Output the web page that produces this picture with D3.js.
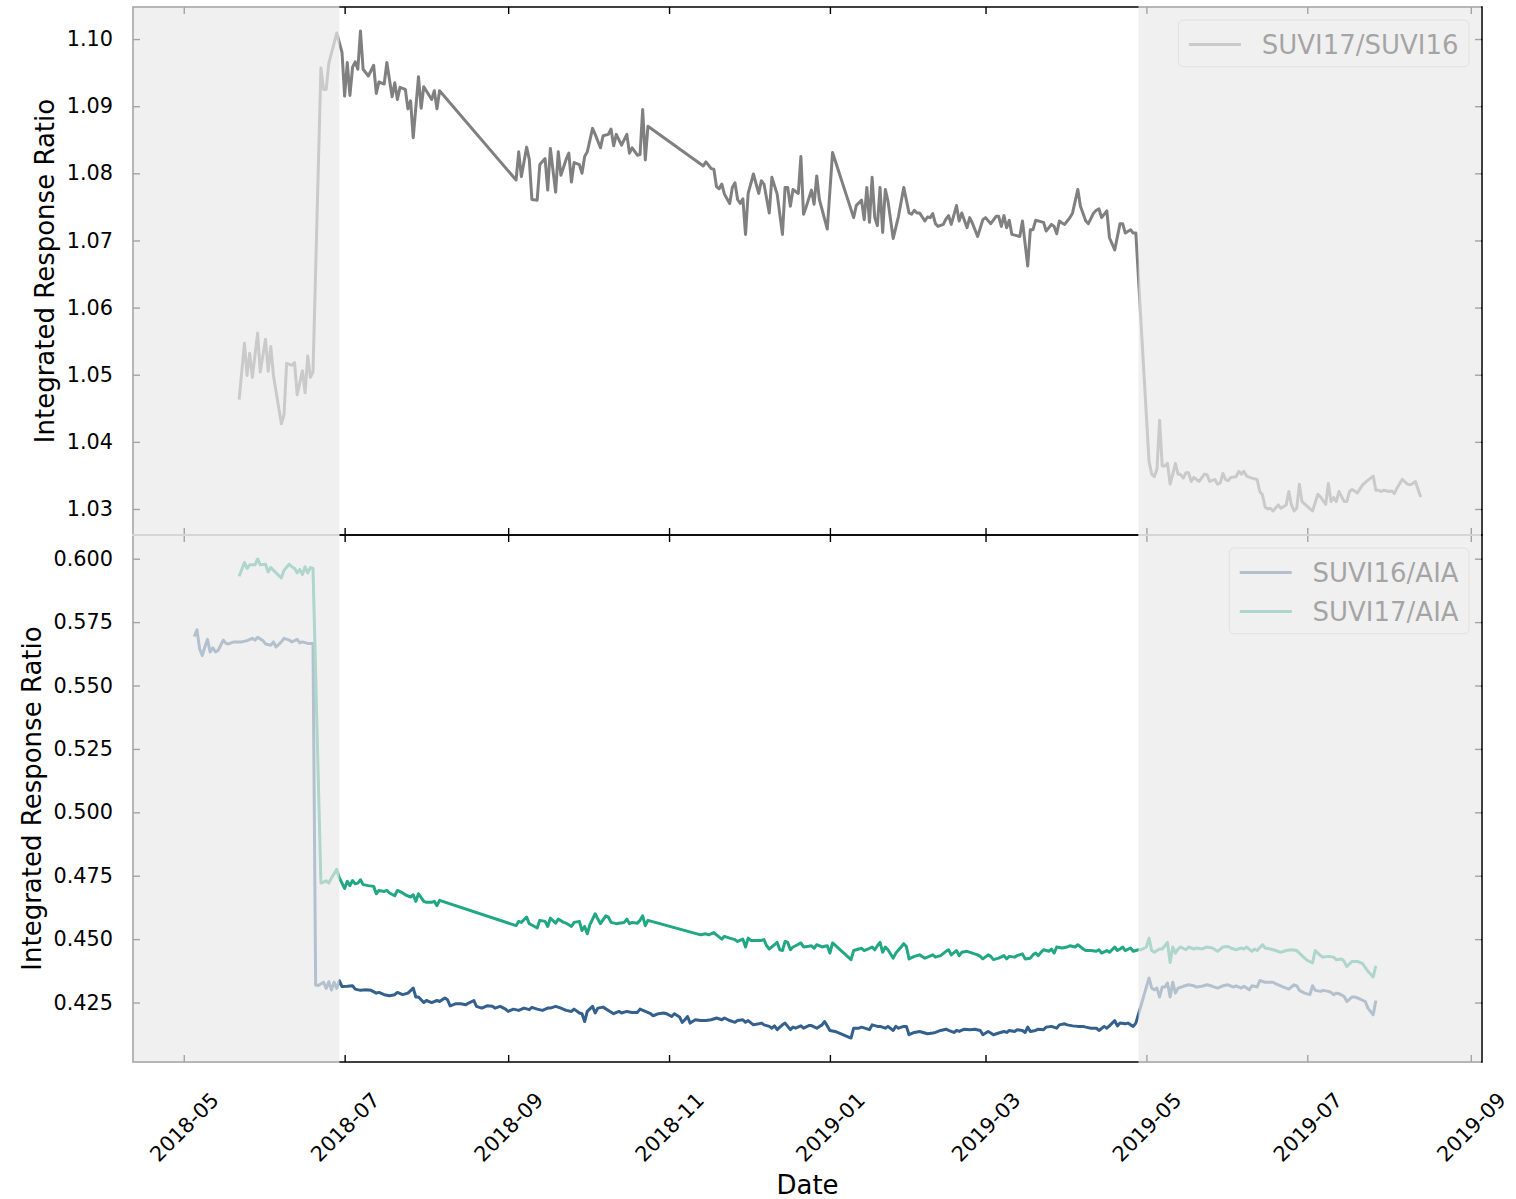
<!DOCTYPE html>
<html>
<head>
<meta charset="utf-8">
<script src="https://cdn.jsdelivr.net/npm/d3@7"></script>
<style>
  body { margin: 0; background: #ffffff; }
  svg text { font-family: "DejaVu Sans", sans-serif; fill: #000; }
</style>
</head>
<body>
<svg id="chart" width="1516" height="1199"></svg>
<script>
// ---- data: integrated response ratios by date ----
const ratio17to16 = [
["2018-05-22",1.0463],["2018-05-24",1.0547],["2018-05-25",1.0499],["2018-05-26",1.0532],["2018-05-27",1.0496],["2018-05-29",1.0562],["2018-05-30",1.0504],["2018-06-01",1.0553],["2018-06-02",1.0505],["2018-06-03",1.0542],["2018-06-04",1.0499],["2018-06-07",1.0427],["2018-06-08",1.0440],["2018-06-09",1.0517],["2018-06-11",1.0514],["2018-06-12",1.0518],["2018-06-13",1.0470],["2018-06-15",1.0506],["2018-06-16",1.0473],["2018-06-17",1.0528],["2018-06-18",1.0496],["2018-06-19",1.0504],["2018-06-22",1.0957],["2018-06-23",1.0925],["2018-06-24",1.0925],["2018-06-25",1.0964],["2018-06-28",1.1009],["2018-06-30",1.0980],
["2018-07-01",1.0915],["2018-07-02",1.0965],["2018-07-03",1.0916],["2018-07-04",1.0958],["2018-07-05",1.0966],["2018-07-06",1.0955],["2018-07-07",1.1012],["2018-07-08",1.0955],["2018-07-10",1.0945],["2018-07-12",1.0961],["2018-07-13",1.0919],["2018-07-14",1.0936],["2018-07-16",1.0933],["2018-07-17",1.0965],["2018-07-19",1.0914],["2018-07-20",1.0935],["2018-07-21",1.0910],["2018-07-22",1.0928],["2018-07-24",1.0925],["2018-07-25",1.0896],["2018-07-26",1.0908],["2018-07-27",1.0853],["2018-07-29",1.0944],["2018-07-30",1.0897],["2018-07-31",1.0929],["2018-08-03",1.0910],["2018-08-04",1.0923],["2018-08-05",1.0896],["2018-08-06",1.0923],
["2018-09-04",1.0790],["2018-09-05",1.0832],["2018-09-06",1.0795],["2018-09-08",1.0839],["2018-09-09",1.0821],["2018-09-10",1.0761],["2018-09-12",1.0760],["2018-09-13",1.0813],["2018-09-15",1.0822],["2018-09-16",1.0775],["2018-09-17",1.0837],["2018-09-19",1.0772],["2018-09-20",1.0832],["2018-09-21",1.0797],["2018-09-23",1.0821],["2018-09-24",1.0830],["2018-09-25",1.0787],["2018-09-26",1.0816],["2018-09-28",1.0813],["2018-09-29",1.0800],["2018-09-30",1.0825],["2018-10-01",1.0832],["2018-10-03",1.0867],["2018-10-04",1.0858],["2018-10-06",1.0838],["2018-10-07",1.0856],["2018-10-09",1.0858],["2018-10-10",1.0866],["2018-10-11",1.0841],["2018-10-12",1.0858],["2018-10-14",1.0842],["2018-10-16",1.0858],["2018-10-17",1.0830],["2018-10-18",1.0838],["2018-10-20",1.0827],["2018-10-21",1.0828],["2018-10-22",1.0895],["2018-10-23",1.0820],["2018-10-24",1.0870],
["2018-11-14",1.0811],["2018-11-15",1.0817],["2018-11-17",1.0807],["2018-11-18",1.0806],["2018-11-19",1.0780],["2018-11-20",1.0777],["2018-11-21",1.0784],["2018-11-22",1.0769],["2018-11-24",1.0755],["2018-11-25",1.0779],["2018-11-26",1.0786],["2018-11-27",1.0761],["2018-11-28",1.0755],["2018-11-29",1.0762],["2018-11-30",1.0709],["2018-12-01",1.0770],["2018-12-03",1.0799],["2018-12-05",1.0770],["2018-12-06",1.0789],["2018-12-07",1.0784],["2018-12-09",1.0741],["2018-12-10",1.0794],["2018-12-12",1.0769],["2018-12-14",1.0709],["2018-12-15",1.0779],["2018-12-16",1.0779],["2018-12-17",1.0751],["2018-12-18",1.0776],["2018-12-20",1.0770],["2018-12-21",1.0825],["2018-12-22",1.0739],["2018-12-23",1.0750],["2018-12-25",1.0775],["2018-12-26",1.0754],["2018-12-27",1.0796],["2018-12-28",1.0761],["2018-12-31",1.0717],["2019-01-02",1.0831],
["2019-01-10",1.0734],["2019-01-11",1.0752],["2019-01-13",1.0760],["2019-01-14",1.0731],["2019-01-15",1.0779],["2019-01-16",1.0727],["2019-01-17",1.0794],["2019-01-18",1.0734],["2019-01-19",1.0722],["2019-01-20",1.0779],["2019-01-21",1.0712],["2019-01-22",1.0776],["2019-01-23",1.0759],["2019-01-25",1.0703],["2019-01-27",1.0736],["2019-01-29",1.0779],["2019-01-31",1.0741],["2019-02-01",1.0739],["2019-02-02",1.0745],["2019-02-03",1.0741],["2019-02-04",1.0741],["2019-02-06",1.0729],["2019-02-07",1.0735],["2019-02-08",1.0734],["2019-02-09",1.0740],["2019-02-10",1.0725],["2019-02-11",1.0721],["2019-02-13",1.0724],["2019-02-14",1.0732],["2019-02-15",1.0737],["2019-02-16",1.0724],["2019-02-18",1.0752],["2019-02-19",1.0729],["2019-02-20",1.0741],["2019-02-22",1.0719],["2019-02-23",1.0734],["2019-02-24",1.0726],["2019-02-26",1.0706],["2019-02-28",1.0731],
["2019-03-01",1.0734],["2019-03-03",1.0725],["2019-03-05",1.0736],["2019-03-06",1.0736],["2019-03-07",1.0721],["2019-03-08",1.0737],["2019-03-09",1.0719],["2019-03-10",1.0730],["2019-03-11",1.0709],["2019-03-14",1.0706],["2019-03-15",1.0729],["2019-03-17",1.0662],["2019-03-18",1.0716],["2019-03-19",1.0716],["2019-03-20",1.0730],["2019-03-23",1.0727],["2019-03-24",1.0714],["2019-03-26",1.0724],["2019-03-27",1.0721],["2019-03-28",1.0710],["2019-03-29",1.0729],["2019-03-30",1.0726],["2019-03-31",1.0724],["2019-04-01",1.0729],["2019-04-02",1.0734],["2019-04-03",1.0741],["2019-04-05",1.0776],["2019-04-06",1.0751],["2019-04-08",1.0729],["2019-04-09",1.0725],["2019-04-11",1.0741],["2019-04-12",1.0745],["2019-04-13",1.0747],["2019-04-14",1.0734],["2019-04-16",1.0744],["2019-04-17",1.0704],["2019-04-19",1.0686],["2019-04-21",1.0725],["2019-04-22",1.0725],["2019-04-23",1.0711],["2019-04-25",1.0716],["2019-04-26",1.0711],["2019-04-27",1.0711],
["2019-05-02",1.0371],["2019-05-03",1.0352],["2019-05-04",1.0348],["2019-05-05",1.0359],["2019-05-06",1.0432],["2019-05-07",1.0364],["2019-05-08",1.0364],["2019-05-09",1.0368],["2019-05-10",1.0337],["2019-05-11",1.0352],["2019-05-12",1.0368],["2019-05-13",1.0352],["2019-05-14",1.0351],["2019-05-15",1.0346],["2019-05-16",1.0354],["2019-05-17",1.0354],["2019-05-18",1.0341],["2019-05-19",1.0347],["2019-05-21",1.0341],["2019-05-23",1.0352],["2019-05-24",1.0351],["2019-05-25",1.0341],["2019-05-27",1.0344],["2019-05-28",1.0337],["2019-05-29",1.0339],["2019-05-30",1.0353],["2019-05-31",1.0344],["2019-06-01",1.0342],["2019-06-02",1.0347],["2019-06-04",1.0348],["2019-06-05",1.0356],["2019-06-06",1.0352],["2019-06-07",1.0356],["2019-06-08",1.0349],["2019-06-10",1.0346],["2019-06-12",1.0344],["2019-06-13",1.0326],["2019-06-14",1.0321],["2019-06-15",1.0303],["2019-06-16",1.0300],["2019-06-17",1.0301],["2019-06-18",1.0297],["2019-06-20",1.0306],["2019-06-21",1.0301],["2019-06-23",1.0306],["2019-06-24",1.0326],["2019-06-25",1.0306],["2019-06-26",1.0297],["2019-06-27",1.0301],["2019-06-28",1.0337],["2019-06-29",1.0311],
["2019-07-01",1.0304],["2019-07-03",1.0297],["2019-07-05",1.0322],["2019-07-06",1.0318],["2019-07-08",1.0307],["2019-07-09",1.0338],["2019-07-10",1.0311],["2019-07-11",1.0317],["2019-07-12",1.0311],["2019-07-13",1.0326],["2019-07-15",1.0311],["2019-07-16",1.0311],["2019-07-17",1.0326],["2019-07-18",1.0329],["2019-07-20",1.0324],["2019-07-22",1.0336],["2019-07-24",1.0343],["2019-07-26",1.0349],["2019-07-27",1.0328],["2019-07-28",1.0328],["2019-07-29",1.0326],["2019-07-30",1.0328],["2019-08-01",1.0326],["2019-08-02",1.0327],["2019-08-03",1.0323],["2019-08-04",1.0331],["2019-08-06",1.0344],["2019-08-08",1.0337],["2019-08-09",1.0336],["2019-08-10",1.0338],["2019-08-11",1.0341],["2019-08-13",1.0318]
];

const ratio16toAIA = [
["2018-05-05",0.5693],["2018-05-06",0.5720],["2018-05-07",0.5645],["2018-05-08",0.5618],["2018-05-09",0.5652],["2018-05-10",0.5682],["2018-05-11",0.5632],["2018-05-12",0.5649],["2018-05-13",0.5632],["2018-05-14",0.5638],["2018-05-16",0.5679],["2018-05-17",0.5666],["2018-05-18",0.5664],["2018-05-20",0.5672],["2018-05-21",0.5672],["2018-05-23",0.5672],["2018-05-25",0.5677],["2018-05-27",0.5686],["2018-05-28",0.5679],["2018-05-29",0.5690],["2018-05-31",0.5677],["2018-06-01",0.5664],["2018-06-03",0.5659],["2018-06-04",0.5672],["2018-06-05",0.5652],["2018-06-07",0.5672],["2018-06-08",0.5686],["2018-06-10",0.5679],["2018-06-11",0.5672],["2018-06-13",0.5682],["2018-06-14",0.5668],["2018-06-15",0.5672],["2018-06-17",0.5666],["2018-06-19",0.5666],
["2018-06-20",0.4319],["2018-06-21",0.4317],["2018-06-23",0.4330],["2018-06-24",0.4306],["2018-06-25",0.4332],["2018-06-26",0.4299],["2018-06-27",0.4330],["2018-06-28",0.4306],["2018-06-29",0.4336],["2018-06-30",0.4313],["2018-07-02",0.4314],["2018-07-04",0.4316],["2018-07-05",0.4303],["2018-07-07",0.4298],["2018-07-09",0.4300],["2018-07-11",0.4298],["2018-07-13",0.4287],["2018-07-14",0.4290],["2018-07-16",0.4281],["2018-07-18",0.4277],["2018-07-20",0.4281],["2018-07-21",0.4290],["2018-07-23",0.4281],["2018-07-25",0.4287],["2018-07-27",0.4307],["2018-07-28",0.4272],["2018-07-29",0.4272],["2018-07-31",0.4250],
["2018-08-01",0.4258],["2018-08-03",0.4250],["2018-08-05",0.4258],["2018-08-06",0.4254],["2018-08-08",0.4268],["2018-08-09",0.4261],["2018-08-10",0.4237],["2018-08-12",0.4245],["2018-08-14",0.4245],["2018-08-16",0.4241],["2018-08-17",0.4248],["2018-08-19",0.4258],["2018-08-20",0.4235],["2018-08-22",0.4228],["2018-08-24",0.4237],["2018-08-26",0.4235],["2018-08-27",0.4228],["2018-08-29",0.4235],["2018-08-31",0.4224],
["2018-09-01",0.4215],["2018-09-03",0.4224],["2018-09-05",0.4219],["2018-09-07",0.4228],["2018-09-09",0.4222],["2018-09-10",0.4231],["2018-09-12",0.4224],["2018-09-14",0.4219],["2018-09-16",0.4228],["2018-09-17",0.4228],["2018-09-19",0.4235],["2018-09-21",0.4228],["2018-09-23",0.4219],["2018-09-25",0.4215],["2018-09-26",0.4224],["2018-09-28",0.4209],["2018-09-29",0.4206],["2018-09-30",0.4175],
["2018-10-01",0.4215],["2018-10-03",0.4235],["2018-10-04",0.4209],["2018-10-05",0.4228],["2018-10-07",0.4232],["2018-10-09",0.4219],["2018-10-11",0.4206],["2018-10-13",0.4215],["2018-10-14",0.4209],["2018-10-16",0.4215],["2018-10-18",0.4211],["2018-10-20",0.4211],["2018-10-21",0.4224],["2018-10-23",0.4215],["2018-10-25",0.4206],["2018-10-26",0.4198],["2018-10-28",0.4206],["2018-10-30",0.4209],["2018-10-31",0.4206],
["2018-11-02",0.4195],["2018-11-03",0.4206],["2018-11-05",0.4193],["2018-11-06",0.4172],["2018-11-07",0.4182],["2018-11-08",0.4195],["2018-11-09",0.4169],["2018-11-11",0.4182],["2018-11-13",0.4179],["2018-11-15",0.4179],["2018-11-17",0.4182],["2018-11-19",0.4189],["2018-11-21",0.4182],["2018-11-22",0.4189],["2018-11-24",0.4179],["2018-11-26",0.4172],["2018-11-27",0.4179],["2018-11-29",0.4182],["2018-11-30",0.4172],
["2018-12-01",0.4179],["2018-12-03",0.4162],["2018-12-05",0.4166],["2018-12-06",0.4169],["2018-12-07",0.4162],["2018-12-09",0.4156],["2018-12-10",0.4149],["2018-12-11",0.4158],["2018-12-12",0.4143],["2018-12-14",0.4162],["2018-12-15",0.4169],["2018-12-17",0.4143],["2018-12-18",0.4153],["2018-12-19",0.4149],["2018-12-21",0.4158],["2018-12-22",0.4149],["2018-12-24",0.4159],["2018-12-25",0.4159],["2018-12-27",0.4149],["2018-12-29",0.4162],["2018-12-30",0.4175],
["2019-01-01",0.4140],["2019-01-03",0.4136],["2019-01-09",0.4110],["2019-01-10",0.4149],["2019-01-12",0.4149],["2019-01-13",0.4153],["2019-01-16",0.4143],["2019-01-17",0.4162],["2019-01-19",0.4156],["2019-01-20",0.4156],["2019-01-22",0.4149],["2019-01-23",0.4156],["2019-01-25",0.4140],["2019-01-26",0.4156],["2019-01-27",0.4149],["2019-01-29",0.4156],["2019-01-30",0.4156],["2019-01-31",0.4123],
["2019-02-02",0.4132],["2019-02-04",0.4136],["2019-02-06",0.4130],["2019-02-07",0.4127],["2019-02-09",0.4130],["2019-02-10",0.4132],["2019-02-12",0.4140],["2019-02-14",0.4145],["2019-02-15",0.4140],["2019-02-17",0.4132],["2019-02-18",0.4140],["2019-02-19",0.4136],["2019-02-21",0.4145],["2019-02-23",0.4143],["2019-02-25",0.4145],["2019-02-27",0.4140],["2019-02-28",0.4123],
["2019-03-02",0.4136],["2019-03-03",0.4130],["2019-03-04",0.4123],["2019-03-06",0.4130],["2019-03-08",0.4136],["2019-03-09",0.4132],["2019-03-10",0.4140],["2019-03-12",0.4136],["2019-03-13",0.4143],["2019-03-15",0.4140],["2019-03-16",0.4132],["2019-03-17",0.4153],["2019-03-18",0.4136],["2019-03-20",0.4140],["2019-03-21",0.4145],["2019-03-23",0.4143],["2019-03-24",0.4153],["2019-03-26",0.4156],["2019-03-28",0.4149],["2019-03-29",0.4162],["2019-03-31",0.4166],
["2019-04-01",0.4162],["2019-04-03",0.4158],["2019-04-05",0.4156],["2019-04-07",0.4156],["2019-04-08",0.4153],["2019-04-10",0.4149],["2019-04-12",0.4149],["2019-04-13",0.4140],["2019-04-15",0.4156],["2019-04-16",0.4149],["2019-04-17",0.4158],["2019-04-19",0.4179],["2019-04-20",0.4158],["2019-04-21",0.4169],["2019-04-23",0.4166],["2019-04-24",0.4169],["2019-04-25",0.4162],["2019-04-26",0.4156],["2019-04-27",0.4169],
["2019-05-02",0.4347],["2019-05-03",0.4307],["2019-05-04",0.4300],["2019-05-05",0.4307],["2019-05-06",0.4272],["2019-05-07",0.4311],["2019-05-08",0.4311],["2019-05-09",0.4327],["2019-05-10",0.4272],["2019-05-11",0.4330],["2019-05-12",0.4287],["2019-05-13",0.4307],["2019-05-15",0.4314],["2019-05-17",0.4320],["2019-05-19",0.4316],["2019-05-20",0.4311],["2019-05-22",0.4314],["2019-05-24",0.4320],["2019-05-26",0.4314],["2019-05-28",0.4307],["2019-05-30",0.4316],
["2019-06-01",0.4320],["2019-06-03",0.4311],["2019-06-04",0.4316],["2019-06-06",0.4307],["2019-06-07",0.4314],["2019-06-09",0.4300],["2019-06-10",0.4316],["2019-06-12",0.4311],["2019-06-13",0.4337],["2019-06-15",0.4330],["2019-06-16",0.4330],["2019-06-18",0.4330],["2019-06-19",0.4324],["2019-06-20",0.4320],["2019-06-22",0.4311],["2019-06-24",0.4303],["2019-06-26",0.4320],["2019-06-27",0.4316],["2019-06-28",0.4298],["2019-06-30",0.4287],
["2019-07-02",0.4281],["2019-07-03",0.4316],["2019-07-04",0.4298],["2019-07-06",0.4294],["2019-07-07",0.4298],["2019-07-09",0.4294],["2019-07-10",0.4290],["2019-07-11",0.4281],["2019-07-12",0.4287],["2019-07-13",0.4285],["2019-07-15",0.4274],["2019-07-16",0.4254],["2019-07-18",0.4272],["2019-07-19",0.4272],["2019-07-21",0.4264],["2019-07-23",0.4254],["2019-07-24",0.4228],["2019-07-26",0.4202],["2019-07-27",0.4258]
];

const ratio17toAIA = [
["2018-05-22",0.5931],["2018-05-24",0.5985],["2018-05-25",0.5962],["2018-05-26",0.5976],["2018-05-28",0.5976],["2018-05-29",0.5999],["2018-05-30",0.5976],["2018-06-01",0.5978],["2018-06-02",0.5948],["2018-06-03",0.5965],["2018-06-05",0.5944],["2018-06-07",0.5924],["2018-06-08",0.5954],["2018-06-10",0.5978],["2018-06-11",0.5968],["2018-06-12",0.5962],["2018-06-13",0.5944],["2018-06-14",0.5958],["2018-06-15",0.5938],["2018-06-16",0.5968],["2018-06-17",0.5944],["2018-06-18",0.5965],["2018-06-19",0.5962],
["2018-06-22",0.4721],["2018-06-23",0.4725],["2018-06-24",0.4730],["2018-06-25",0.4721],["2018-06-26",0.4741],["2018-06-28",0.4775],["2018-06-29",0.4741],["2018-07-01",0.4700],["2018-07-02",0.4728],["2018-07-03",0.4711],["2018-07-04",0.4731],["2018-07-05",0.4718],["2018-07-06",0.4721],["2018-07-07",0.4734],["2018-07-08",0.4715],["2018-07-10",0.4711],["2018-07-12",0.4708],["2018-07-13",0.4679],["2018-07-14",0.4692],["2018-07-16",0.4688],["2018-07-17",0.4692],["2018-07-18",0.4682],["2018-07-20",0.4671],["2018-07-21",0.4692],["2018-07-23",0.4682],["2018-07-24",0.4675],["2018-07-26",0.4666],["2018-07-27",0.4675],["2018-07-28",0.4649],["2018-07-29",0.4679],["2018-07-31",0.4649],["2018-08-01",0.4645],["2018-08-03",0.4645],["2018-08-04",0.4649],["2018-08-05",0.4632],["2018-08-06",0.4653],
["2018-09-04",0.4553],["2018-09-05",0.4570],["2018-09-06",0.4566],["2018-09-08",0.4587],["2018-09-09",0.4561],["2018-09-11",0.4550],["2018-09-12",0.4544],["2018-09-13",0.4574],["2018-09-15",0.4570],["2018-09-16",0.4550],["2018-09-17",0.4583],["2018-09-19",0.4563],["2018-09-20",0.4579],["2018-09-22",0.4566],["2018-09-23",0.4563],["2018-09-25",0.4550],["2018-09-26",0.4566],["2018-09-28",0.4570],["2018-09-29",0.4534],["2018-09-30",0.4550],["2018-10-01",0.4521],["2018-10-02",0.4557],["2018-10-04",0.4600],["2018-10-05",0.4579],["2018-10-06",0.4561],["2018-10-08",0.4592],["2018-10-09",0.4587],["2018-10-10",0.4566],["2018-10-12",0.4561],["2018-10-13",0.4563],["2018-10-15",0.4566],["2018-10-16",0.4579],["2018-10-17",0.4561],["2018-10-18",0.4566],["2018-10-20",0.4563],["2018-10-21",0.4574],["2018-10-22",0.4592],["2018-10-23",0.4553],["2018-10-24",0.4574],
["2018-11-13",0.4517],["2018-11-15",0.4521],["2018-11-16",0.4517],["2018-11-18",0.4526],["2018-11-19",0.4517],["2018-11-21",0.4500],["2018-11-22",0.4511],["2018-11-24",0.4504],["2018-11-26",0.4498],["2018-11-27",0.4491],["2018-11-29",0.4500],["2018-11-30",0.4469],["2018-12-01",0.4504],["2018-12-02",0.4495],["2018-12-04",0.4495],["2018-12-06",0.4495],["2018-12-07",0.4498],["2018-12-08",0.4474],["2018-12-09",0.4461],["2018-12-11",0.4478],["2018-12-12",0.4487],["2018-12-13",0.4458],["2018-12-14",0.4455],["2018-12-15",0.4491],["2018-12-16",0.4487],["2018-12-17",0.4458],["2018-12-18",0.4469],["2018-12-19",0.4474],["2018-12-21",0.4485],["2018-12-22",0.4469],["2018-12-24",0.4472],["2018-12-25",0.4474],["2018-12-26",0.4464],["2018-12-27",0.4478],["2018-12-29",0.4469],["2018-12-30",0.4472],["2018-12-31",0.4474],["2019-01-01",0.4445],["2019-01-02",0.4485],
["2019-01-09",0.4419],["2019-01-10",0.4455],["2019-01-11",0.4458],["2019-01-13",0.4464],["2019-01-14",0.4455],["2019-01-16",0.4464],["2019-01-17",0.4469],["2019-01-18",0.4458],["2019-01-19",0.4474],["2019-01-20",0.4487],["2019-01-21",0.4448],["2019-01-22",0.4469],["2019-01-23",0.4458],["2019-01-25",0.4425],["2019-01-26",0.4445],["2019-01-28",0.4469],["2019-01-29",0.4482],["2019-01-30",0.4471],["2019-01-31",0.4422],["2019-02-02",0.4432],["2019-02-04",0.4438],["2019-02-06",0.4425],["2019-02-07",0.4429],["2019-02-09",0.4438],["2019-02-10",0.4429],["2019-02-12",0.4435],["2019-02-14",0.4452],["2019-02-15",0.4458],["2019-02-16",0.4438],["2019-02-18",0.4455],["2019-02-19",0.4435],["2019-02-20",0.4448],["2019-02-22",0.4452],["2019-02-24",0.4445],["2019-02-26",0.4438],["2019-02-27",0.4432],["2019-02-28",0.4422],
["2019-03-02",0.4438],["2019-03-03",0.4432],["2019-03-04",0.4419],["2019-03-06",0.4425],["2019-03-08",0.4435],["2019-03-09",0.4422],["2019-03-10",0.4432],["2019-03-12",0.4429],["2019-03-13",0.4435],["2019-03-15",0.4442],["2019-03-16",0.4422],["2019-03-18",0.4425],["2019-03-19",0.4438],["2019-03-20",0.4445],["2019-03-21",0.4435],["2019-03-22",0.4448],["2019-03-23",0.4458],["2019-03-25",0.4452],["2019-03-26",0.4461],["2019-03-27",0.4445],["2019-03-28",0.4469],["2019-03-30",0.4465],["2019-04-01",0.4469],["2019-04-02",0.4474],["2019-04-04",0.4469],["2019-04-05",0.4478],["2019-04-07",0.4461],["2019-04-08",0.4455],["2019-04-10",0.4455],["2019-04-12",0.4452],["2019-04-13",0.4458],["2019-04-14",0.4445],["2019-04-16",0.4455],["2019-04-17",0.4448],["2019-04-19",0.4469],["2019-04-20",0.4455],["2019-04-21",0.4461],["2019-04-22",0.4469],["2019-04-23",0.4455],["2019-04-25",0.4465],["2019-04-26",0.4452],["2019-04-28",0.4458],["2019-04-29",0.4458],
["2019-05-01",0.4469],["2019-05-02",0.4504],["2019-05-03",0.4455],["2019-05-04",0.4448],["2019-05-05",0.4455],["2019-05-06",0.4461],["2019-05-07",0.4461],["2019-05-08",0.4474],["2019-05-09",0.4487],["2019-05-10",0.4408],["2019-05-11",0.4469],["2019-05-12",0.4445],["2019-05-13",0.4461],["2019-05-14",0.4469],["2019-05-16",0.4458],["2019-05-17",0.4469],["2019-05-19",0.4461],["2019-05-20",0.4465],["2019-05-22",0.4461],["2019-05-24",0.4469],["2019-05-26",0.4465],["2019-05-28",0.4452],["2019-05-30",0.4469],["2019-06-01",0.4471],["2019-06-02",0.4465],["2019-06-04",0.4458],["2019-06-06",0.4465],["2019-06-07",0.4461],["2019-06-08",0.4469],["2019-06-10",0.4452],["2019-06-11",0.4461],["2019-06-12",0.4455],["2019-06-14",0.4478],["2019-06-15",0.4465],["2019-06-17",0.4461],["2019-06-19",0.4455],["2019-06-21",0.4448],["2019-06-23",0.4455],["2019-06-25",0.4458],["2019-06-27",0.4455],["2019-06-28",0.4445],["2019-06-30",0.4425],
["2019-07-01",0.4416],["2019-07-03",0.4406],["2019-07-04",0.4455],["2019-07-06",0.4435],["2019-07-07",0.4429],["2019-07-09",0.4432],["2019-07-11",0.4429],["2019-07-12",0.4419],["2019-07-14",0.4422],["2019-07-15",0.4412],["2019-07-16",0.4392],["2019-07-18",0.4412],["2019-07-20",0.4412],["2019-07-22",0.4403],["2019-07-24",0.4373],["2019-07-26",0.4351],["2019-07-27",0.4395]
];

// tick positions
const topTicks = [1.03, 1.04, 1.05, 1.06, 1.07, 1.08, 1.09, 1.10];
const bottomTicks = [0.425, 0.450, 0.475, 0.500, 0.525, 0.550, 0.575, 0.600];
const dateTicks = ["2018-05-01","2018-07-01","2018-09-01","2018-11-01","2019-01-01","2019-03-01","2019-05-01","2019-07-01","2019-09-01"];

// periods greyed out (open-ended toward the axis edges)
const greyPeriods = [[null, "2018-06-29"], ["2019-04-28", null]];

// series styling
const topSeries = [{name: "SUVI17/SUVI16", data: ratio17to16, color: "#808080"}];
const bottomSeries = [
  {name: "SUVI16/AIA", data: ratio16toAIA, color: "#33608d"},
  {name: "SUVI17/AIA", data: ratio17toAIA, color: "#22a784"}
];

// ---- layout ----
const FONT = "DejaVu Sans";
const FS_TICK = 20.8, FS_LABEL = 26, FS_LEGEND = 26;
const TICK_LEN = 7, LINE_W = 3;
const LEFT = 133, RIGHT = 1482;
const panels = [{top: 7, bottom: 535}, {top: 535, bottom: 1062}];

const parse = d3.utcParse("%Y-%m-%d");
const svg = d3.select("#chart");

// x domain: full data extent padded by 5% on each side
const allDates = [...ratio17to16, ...ratio16toAIA, ...ratio17toAIA].map(d => parse(d[0]));
const [t0, t1] = d3.extent(allDates);
const tPad = (t1 - t0) * 0.05;
const x = d3.scaleUtc().domain([new Date(+t0 - tPad), new Date(+t1 + tPad)]).range([LEFT, RIGHT]);

function paddedExtent(values) {
  const [a, b] = d3.extent(values);
  const p = (b - a) * 0.05;
  return [a - p, b + p];
}
const yTop = d3.scaleLinear()
  .domain(paddedExtent(ratio17to16.map(d => d[1])))
  .range([panels[0].bottom, panels[0].top]);
const yBottom = d3.scaleLinear()
  .domain(paddedExtent([...ratio16toAIA, ...ratio17toAIA].map(d => d[1])))
  .range([panels[1].bottom, panels[1].top]);

const layers = {
  lines: svg.append("g"),
  frame: svg.append("g"),
  legend: svg.append("g"),
  grey: svg.append("g"),
  labels: svg.append("g")
};

function styleAxis(g) {
  g.select(".domain").remove();
  g.selectAll(".tick line").attr("stroke", "#000").attr("stroke-width", 1.4);
  g.selectAll("text").attr("font-family", FONT).attr("font-size", FS_TICK).attr("fill", "#000");
  g.attr("font-family", null).attr("font-size", null);
}

function drawPanel(panel, y, yTickValues, yFormat, series, showDates) {
  const clipId = "clip" + panel.top;
  svg.append("defs").append("clipPath").attr("id", clipId)
    .append("rect").attr("x", LEFT).attr("y", panel.top)
    .attr("width", RIGHT - LEFT).attr("height", panel.bottom - panel.top);

  const line = d3.line().x(d => x(parse(d[0]))).y(d => y(d[1]));
  const lg = layers.lines.append("g").attr("clip-path", `url(#${clipId})`);
  series.forEach(s => {
    lg.append("path").datum(s.data)
      .attr("d", line)
      .attr("fill", "none")
      .attr("stroke", s.color)
      .attr("stroke-width", LINE_W)
      .attr("stroke-linejoin", "round")
      .attr("stroke-linecap", "butt");
  });

  const tickDates = dateTicks.map(parse);
  const f = layers.frame;

  // bottom x ticks (inward)
  const xb = f.append("g").attr("transform", `translate(0,${panel.bottom})`)
    .call(d3.axisBottom(x).tickValues(tickDates).tickSize(-TICK_LEN)
      .tickFormat(showDates ? d3.utcFormat("%Y-%m") : () => ""));
  styleAxis(xb);
  if (showDates) {
    xb.selectAll("text").each(function () {
      const w = this.getComputedTextLength();
      const h = (w + FS_TICK) / Math.SQRT2;
      d3.select(this)
        .attr("y", 0).attr("dy", "0.35em").attr("text-anchor", "middle")
        .attr("transform", `translate(0,${27 + h / 2}) rotate(-45)`);
    });
  }
  // top x ticks (inward)
  const xt = f.append("g").attr("transform", `translate(0,${panel.top})`)
    .call(d3.axisTop(x).tickValues(tickDates).tickSize(-TICK_LEN).tickFormat(() => ""));
  styleAxis(xt);

  // left y axis with labels, ticks inward
  const yl = f.append("g").attr("transform", `translate(${LEFT},0)`)
    .call(d3.axisLeft(y).tickValues(yTickValues).tickSize(-TICK_LEN).tickPadding(20).tickFormat(yFormat));
  styleAxis(yl);
  // right y ticks
  const yr = f.append("g").attr("transform", `translate(${RIGHT},0)`)
    .call(d3.axisRight(y).tickValues(yTickValues).tickSize(-TICK_LEN).tickFormat(() => ""));
  styleAxis(yr);

  // spines
  f.append("rect").attr("x", LEFT).attr("y", panel.top)
    .attr("width", RIGHT - LEFT).attr("height", panel.bottom - panel.top)
    .attr("fill", "none").attr("stroke", "#000").attr("stroke-width", 1.5);

  // legend in the upper right corner
  const pad = 0.4 * FS_LEGEND, handle = 2 * FS_LEGEND, gap = 0.8 * FS_LEGEND;
  const rowH = 1.0 * FS_LEGEND, rowGap = 0.5 * FS_LEGEND, inset = 0.5 * FS_LEGEND;
  const leg = layers.legend.append("g");
  const texts = series.map((s, i) => leg.append("text")
    .attr("font-family", FONT).attr("font-size", FS_LEGEND).attr("fill", "#000")
    .attr("dy", "0.35em").text(s.name));
  const maxW = d3.max(texts, t => t.node().getComputedTextLength());
  const boxW = pad + handle + gap + maxW + pad;
  const boxH = 2 * pad + series.length * rowH + (series.length - 1) * rowGap;
  const bx = RIGHT - inset - boxW, by = panel.top + inset;
  leg.insert("rect", "text").attr("x", bx).attr("y", by).attr("width", boxW).attr("height", boxH)
    .attr("rx", 5).attr("fill", "#fff").attr("fill-opacity", 0.8)
    .attr("stroke", "#cccccc").attr("stroke-width", 1);
  series.forEach((s, i) => {
    const cy = by + pad + rowH / 2 + i * (rowH + rowGap) + 1;
    leg.append("line").attr("x1", bx + pad).attr("x2", bx + pad + handle)
      .attr("y1", cy).attr("y2", cy).attr("stroke", s.color).attr("stroke-width", LINE_W);
    texts[i].attr("x", bx + pad + handle + gap).attr("y", cy);
  });

  // grey veil over the excluded periods (drawn on top of everything inside the axes)
  greyPeriods.forEach(([a, b]) => {
    const x0 = a ? x(parse(a)) : LEFT - 1;
    const x1 = b ? x(parse(b)) : RIGHT - 1;
    layers.grey.append("rect")
      .attr("x", x0).attr("y", panel.top - 1)
      .attr("width", x1 - x0).attr("height", panel.bottom - panel.top + 2)
      .attr("fill", "#eaeaea").attr("fill-opacity", 0.7);
  });

  // y axis title, placed left of the tick labels
  const labelLeft = d3.min(yl.selectAll("text").nodes(), n => n.getBBox().x) + LEFT;
  const cy = (panel.top + panel.bottom) / 2;
  layers.labels.append("text")
    .attr("font-family", FONT).attr("font-size", FS_LABEL)
    .attr("text-anchor", "middle").attr("dy", "0.35em")
    .attr("transform", `translate(${labelLeft - 22},${cy}) rotate(-90)`)
    .text("Integrated Response Ratio");
}

drawPanel(panels[0], yTop, topTicks, d3.format(".2f"), topSeries, false);
drawPanel(panels[1], yBottom, bottomTicks, d3.format(".3f"), bottomSeries, true);

// x axis title
layers.labels.append("text")
  .attr("font-family", FONT).attr("font-size", FS_LABEL)
  .attr("text-anchor", "middle").attr("x", (LEFT + RIGHT) / 2).attr("y", 1185).attr("dy", "0.35em")
  .text("Date");
</script>
</body>
</html>
